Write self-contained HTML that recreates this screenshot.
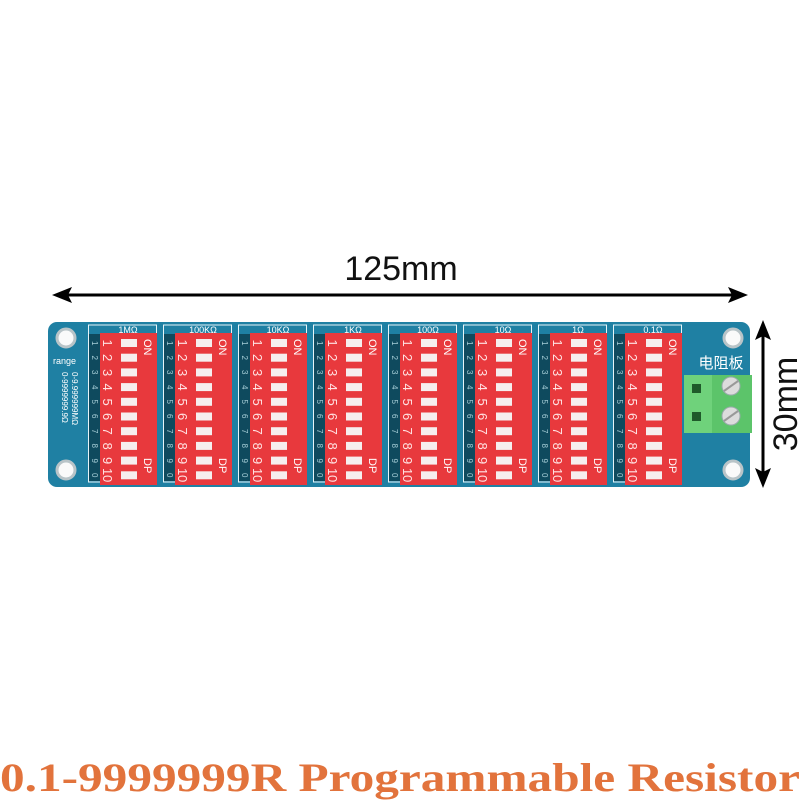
<!DOCTYPE html>
<html><head><meta charset="utf-8"><style>
html,body{margin:0;padding:0;background:#fff;width:800px;height:800px;overflow:hidden}
svg{display:block}
</style></head><body>
<svg width="800" height="800" viewBox="0 0 800 800" xmlns="http://www.w3.org/2000/svg" font-family="Liberation Sans, sans-serif">
<defs>
<marker id="ah" markerWidth="10" markerHeight="10" refX="9" refY="5" orient="auto" markerUnits="userSpaceOnUse"><path d="M0,0 L10,5 L0,10 Z" fill="#000"/></marker>
</defs>
<!-- dimension arrows -->
<text x="401" y="280" font-size="34" text-anchor="middle" fill="#111">125mm</text>
<line x1="62" y1="295" x2="738" y2="295" stroke="#000" stroke-width="3"/>
<path d="M52,295 L72,287 L68,295 L72,303 Z" fill="#000"/>
<path d="M748,295 L728,287 L732,295 L728,303 Z" fill="#000"/>
<line x1="763" y1="330" x2="763" y2="478" stroke="#000" stroke-width="3"/>
<path d="M763,320 L755,340 L763,336 L771,340 Z" fill="#000"/>
<path d="M763,488 L755,468 L763,472 L771,468 Z" fill="#000"/>
<text transform="translate(797,404) rotate(-90)" font-size="34" text-anchor="middle" fill="#111">30mm</text>

<!-- board -->
<rect x="48" y="322" width="702" height="165" rx="9" fill="#1f80a3"/>
<g fill="#fafafa" stroke="#b9c4c8" stroke-width="3">
<circle cx="66" cy="338" r="9"/><circle cx="66" cy="470" r="9"/>
<circle cx="733" cy="338" r="9"/><circle cx="733" cy="470" r="9"/>
</g>
<text x="53" y="364" font-size="9" fill="#fff">range</text>
<text transform="rotate(90)" x="372" y="-72" font-size="8" fill="#fff">0-9.999999MΩ</text>
<text transform="rotate(90)" x="372" y="-62" font-size="8" fill="#fff">0-9999999.9Ω</text>

<!-- terminal -->
<text x="721" y="368" font-size="15" text-anchor="middle" fill="#fff" font-family="Liberation Sans, Noto Sans CJK SC, sans-serif">电阻板</text>
<rect x="684" y="375" width="68" height="58" fill="#5cc46a"/>
<rect x="684" y="375" width="28" height="58" fill="#6fd27b"/>
<rect x="692" y="384" width="9" height="9" fill="#1f5a2a"/>
<rect x="692" y="412" width="9" height="9" fill="#1f5a2a"/>
<g fill="#dcdcdc" stroke="#9aa" stroke-width="1">
<circle cx="731" cy="386" r="9"/><circle cx="731" cy="416" r="9"/>
</g>
<line x1="724" y1="391" x2="738" y2="381" stroke="#999" stroke-width="2"/>
<line x1="724" y1="421" x2="738" y2="411" stroke="#999" stroke-width="2"/>

<!-- module template, repeated -->
<g id="mods">
<g transform="translate(88,0)">
<rect x="0.5" y="325" width="68" height="157" fill="none" stroke="#e6f4f8" stroke-width="1"/>
<rect x="1" y="334" width="11" height="147" fill="#0f4a5e"/>
<rect x="12" y="333" width="57" height="152" fill="#e8393d"/>
<text x="40" y="333" font-size="9" text-anchor="middle" fill="#fff">1MΩ</text>
</g>
<g transform="translate(163,0)">
<rect x="0.5" y="325" width="68" height="157" fill="none" stroke="#e6f4f8" stroke-width="1"/>
<rect x="1" y="334" width="11" height="147" fill="#0f4a5e"/>
<rect x="12" y="333" width="57" height="152" fill="#e8393d"/>
<text x="40" y="333" font-size="9" text-anchor="middle" fill="#fff">100KΩ</text>
</g>
<g transform="translate(238,0)">
<rect x="0.5" y="325" width="68" height="157" fill="none" stroke="#e6f4f8" stroke-width="1"/>
<rect x="1" y="334" width="11" height="147" fill="#0f4a5e"/>
<rect x="12" y="333" width="57" height="152" fill="#e8393d"/>
<text x="40" y="333" font-size="9" text-anchor="middle" fill="#fff">10KΩ</text>
</g>
<g transform="translate(313,0)">
<rect x="0.5" y="325" width="68" height="157" fill="none" stroke="#e6f4f8" stroke-width="1"/>
<rect x="1" y="334" width="11" height="147" fill="#0f4a5e"/>
<rect x="12" y="333" width="57" height="152" fill="#e8393d"/>
<text x="40" y="333" font-size="9" text-anchor="middle" fill="#fff">1KΩ</text>
</g>
<g transform="translate(388,0)">
<rect x="0.5" y="325" width="68" height="157" fill="none" stroke="#e6f4f8" stroke-width="1"/>
<rect x="1" y="334" width="11" height="147" fill="#0f4a5e"/>
<rect x="12" y="333" width="57" height="152" fill="#e8393d"/>
<text x="40" y="333" font-size="9" text-anchor="middle" fill="#fff">100Ω</text>
</g>
<g transform="translate(463,0)">
<rect x="0.5" y="325" width="68" height="157" fill="none" stroke="#e6f4f8" stroke-width="1"/>
<rect x="1" y="334" width="11" height="147" fill="#0f4a5e"/>
<rect x="12" y="333" width="57" height="152" fill="#e8393d"/>
<text x="40" y="333" font-size="9" text-anchor="middle" fill="#fff">10Ω</text>
</g>
<g transform="translate(538,0)">
<rect x="0.5" y="325" width="68" height="157" fill="none" stroke="#e6f4f8" stroke-width="1"/>
<rect x="1" y="334" width="11" height="147" fill="#0f4a5e"/>
<rect x="12" y="333" width="57" height="152" fill="#e8393d"/>
<text x="40" y="333" font-size="9" text-anchor="middle" fill="#fff">1Ω</text>
</g>
<g transform="translate(613,0)">
<rect x="0.5" y="325" width="68" height="157" fill="none" stroke="#e6f4f8" stroke-width="1"/>
<rect x="1" y="334" width="11" height="147" fill="#0f4a5e"/>
<rect x="12" y="333" width="57" height="152" fill="#e8393d"/>
<text x="40" y="333" font-size="9" text-anchor="middle" fill="#fff">0.1Ω</text>
</g>
</g>

<!-- per-module details -->
<g>
<g transform="translate(88,0)">
<g fill="#f6eeee"><rect x="33" y="339" width="16" height="8"/><rect x="33" y="353.7" width="16" height="8"/><rect x="33" y="368.4" width="16" height="8"/><rect x="33" y="383.1" width="16" height="8"/><rect x="33" y="397.8" width="16" height="8"/><rect x="33" y="412.5" width="16" height="8"/><rect x="33" y="427.2" width="16" height="8"/><rect x="33" y="441.9" width="16" height="8"/><rect x="33" y="456.6" width="16" height="8"/><rect x="33" y="471.3" width="16" height="8"/></g>
<text transform="rotate(90)" y="-4" x="341 355.5 370 385 399.5 414 429 443.5 458.5 473" font-size="8" fill="#a8cfd8">1234567890</text>
<text transform="rotate(90)" y="-15" x="339.5 354 369 383.5 398.5 413 427.5 442.5 457 468 475" font-size="13" fill="#ffe2e2">12345678910</text>
<text transform="rotate(90)" y="-56" x="339" font-size="11" fill="#fff">ON</text>
<text transform="rotate(90)" y="-56" x="458" font-size="11" fill="#fff">DP</text>
</g>
<g transform="translate(163,0)">
<g fill="#f6eeee"><rect x="33" y="339" width="16" height="8"/><rect x="33" y="353.7" width="16" height="8"/><rect x="33" y="368.4" width="16" height="8"/><rect x="33" y="383.1" width="16" height="8"/><rect x="33" y="397.8" width="16" height="8"/><rect x="33" y="412.5" width="16" height="8"/><rect x="33" y="427.2" width="16" height="8"/><rect x="33" y="441.9" width="16" height="8"/><rect x="33" y="456.6" width="16" height="8"/><rect x="33" y="471.3" width="16" height="8"/></g>
<text transform="rotate(90)" y="-4" x="341 355.5 370 385 399.5 414 429 443.5 458.5 473" font-size="8" fill="#a8cfd8">1234567890</text>
<text transform="rotate(90)" y="-15" x="339.5 354 369 383.5 398.5 413 427.5 442.5 457 468 475" font-size="13" fill="#ffe2e2">12345678910</text>
<text transform="rotate(90)" y="-56" x="339" font-size="11" fill="#fff">ON</text>
<text transform="rotate(90)" y="-56" x="458" font-size="11" fill="#fff">DP</text>
</g>
<g transform="translate(238,0)">
<g fill="#f6eeee"><rect x="33" y="339" width="16" height="8"/><rect x="33" y="353.7" width="16" height="8"/><rect x="33" y="368.4" width="16" height="8"/><rect x="33" y="383.1" width="16" height="8"/><rect x="33" y="397.8" width="16" height="8"/><rect x="33" y="412.5" width="16" height="8"/><rect x="33" y="427.2" width="16" height="8"/><rect x="33" y="441.9" width="16" height="8"/><rect x="33" y="456.6" width="16" height="8"/><rect x="33" y="471.3" width="16" height="8"/></g>
<text transform="rotate(90)" y="-4" x="341 355.5 370 385 399.5 414 429 443.5 458.5 473" font-size="8" fill="#a8cfd8">1234567890</text>
<text transform="rotate(90)" y="-15" x="339.5 354 369 383.5 398.5 413 427.5 442.5 457 468 475" font-size="13" fill="#ffe2e2">12345678910</text>
<text transform="rotate(90)" y="-56" x="339" font-size="11" fill="#fff">ON</text>
<text transform="rotate(90)" y="-56" x="458" font-size="11" fill="#fff">DP</text>
</g>
<g transform="translate(313,0)">
<g fill="#f6eeee"><rect x="33" y="339" width="16" height="8"/><rect x="33" y="353.7" width="16" height="8"/><rect x="33" y="368.4" width="16" height="8"/><rect x="33" y="383.1" width="16" height="8"/><rect x="33" y="397.8" width="16" height="8"/><rect x="33" y="412.5" width="16" height="8"/><rect x="33" y="427.2" width="16" height="8"/><rect x="33" y="441.9" width="16" height="8"/><rect x="33" y="456.6" width="16" height="8"/><rect x="33" y="471.3" width="16" height="8"/></g>
<text transform="rotate(90)" y="-4" x="341 355.5 370 385 399.5 414 429 443.5 458.5 473" font-size="8" fill="#a8cfd8">1234567890</text>
<text transform="rotate(90)" y="-15" x="339.5 354 369 383.5 398.5 413 427.5 442.5 457 468 475" font-size="13" fill="#ffe2e2">12345678910</text>
<text transform="rotate(90)" y="-56" x="339" font-size="11" fill="#fff">ON</text>
<text transform="rotate(90)" y="-56" x="458" font-size="11" fill="#fff">DP</text>
</g>
<g transform="translate(388,0)">
<g fill="#f6eeee"><rect x="33" y="339" width="16" height="8"/><rect x="33" y="353.7" width="16" height="8"/><rect x="33" y="368.4" width="16" height="8"/><rect x="33" y="383.1" width="16" height="8"/><rect x="33" y="397.8" width="16" height="8"/><rect x="33" y="412.5" width="16" height="8"/><rect x="33" y="427.2" width="16" height="8"/><rect x="33" y="441.9" width="16" height="8"/><rect x="33" y="456.6" width="16" height="8"/><rect x="33" y="471.3" width="16" height="8"/></g>
<text transform="rotate(90)" y="-4" x="341 355.5 370 385 399.5 414 429 443.5 458.5 473" font-size="8" fill="#a8cfd8">1234567890</text>
<text transform="rotate(90)" y="-15" x="339.5 354 369 383.5 398.5 413 427.5 442.5 457 468 475" font-size="13" fill="#ffe2e2">12345678910</text>
<text transform="rotate(90)" y="-56" x="339" font-size="11" fill="#fff">ON</text>
<text transform="rotate(90)" y="-56" x="458" font-size="11" fill="#fff">DP</text>
</g>
<g transform="translate(463,0)">
<g fill="#f6eeee"><rect x="33" y="339" width="16" height="8"/><rect x="33" y="353.7" width="16" height="8"/><rect x="33" y="368.4" width="16" height="8"/><rect x="33" y="383.1" width="16" height="8"/><rect x="33" y="397.8" width="16" height="8"/><rect x="33" y="412.5" width="16" height="8"/><rect x="33" y="427.2" width="16" height="8"/><rect x="33" y="441.9" width="16" height="8"/><rect x="33" y="456.6" width="16" height="8"/><rect x="33" y="471.3" width="16" height="8"/></g>
<text transform="rotate(90)" y="-4" x="341 355.5 370 385 399.5 414 429 443.5 458.5 473" font-size="8" fill="#a8cfd8">1234567890</text>
<text transform="rotate(90)" y="-15" x="339.5 354 369 383.5 398.5 413 427.5 442.5 457 468 475" font-size="13" fill="#ffe2e2">12345678910</text>
<text transform="rotate(90)" y="-56" x="339" font-size="11" fill="#fff">ON</text>
<text transform="rotate(90)" y="-56" x="458" font-size="11" fill="#fff">DP</text>
</g>
<g transform="translate(538,0)">
<g fill="#f6eeee"><rect x="33" y="339" width="16" height="8"/><rect x="33" y="353.7" width="16" height="8"/><rect x="33" y="368.4" width="16" height="8"/><rect x="33" y="383.1" width="16" height="8"/><rect x="33" y="397.8" width="16" height="8"/><rect x="33" y="412.5" width="16" height="8"/><rect x="33" y="427.2" width="16" height="8"/><rect x="33" y="441.9" width="16" height="8"/><rect x="33" y="456.6" width="16" height="8"/><rect x="33" y="471.3" width="16" height="8"/></g>
<text transform="rotate(90)" y="-4" x="341 355.5 370 385 399.5 414 429 443.5 458.5 473" font-size="8" fill="#a8cfd8">1234567890</text>
<text transform="rotate(90)" y="-15" x="339.5 354 369 383.5 398.5 413 427.5 442.5 457 468 475" font-size="13" fill="#ffe2e2">12345678910</text>
<text transform="rotate(90)" y="-56" x="339" font-size="11" fill="#fff">ON</text>
<text transform="rotate(90)" y="-56" x="458" font-size="11" fill="#fff">DP</text>
</g>
<g transform="translate(613,0)">
<g fill="#f6eeee"><rect x="33" y="339" width="16" height="8"/><rect x="33" y="353.7" width="16" height="8"/><rect x="33" y="368.4" width="16" height="8"/><rect x="33" y="383.1" width="16" height="8"/><rect x="33" y="397.8" width="16" height="8"/><rect x="33" y="412.5" width="16" height="8"/><rect x="33" y="427.2" width="16" height="8"/><rect x="33" y="441.9" width="16" height="8"/><rect x="33" y="456.6" width="16" height="8"/><rect x="33" y="471.3" width="16" height="8"/></g>
<text transform="rotate(90)" y="-4" x="341 355.5 370 385 399.5 414 429 443.5 458.5 473" font-size="8" fill="#a8cfd8">1234567890</text>
<text transform="rotate(90)" y="-15" x="339.5 354 369 383.5 398.5 413 427.5 442.5 457 468 475" font-size="13" fill="#ffe2e2">12345678910</text>
<text transform="rotate(90)" y="-56" x="339" font-size="11" fill="#fff">ON</text>
<text transform="rotate(90)" y="-56" x="458" font-size="11" fill="#fff">DP</text>
</g>
</g>

<!-- caption -->
<text x="0" y="791" font-family="Liberation Serif, serif" font-size="40" font-weight="bold" fill="#e2733c" textLength="800" lengthAdjust="spacingAndGlyphs">0.1-9999999R Programmable Resistor</text>
</svg>
</body></html>
